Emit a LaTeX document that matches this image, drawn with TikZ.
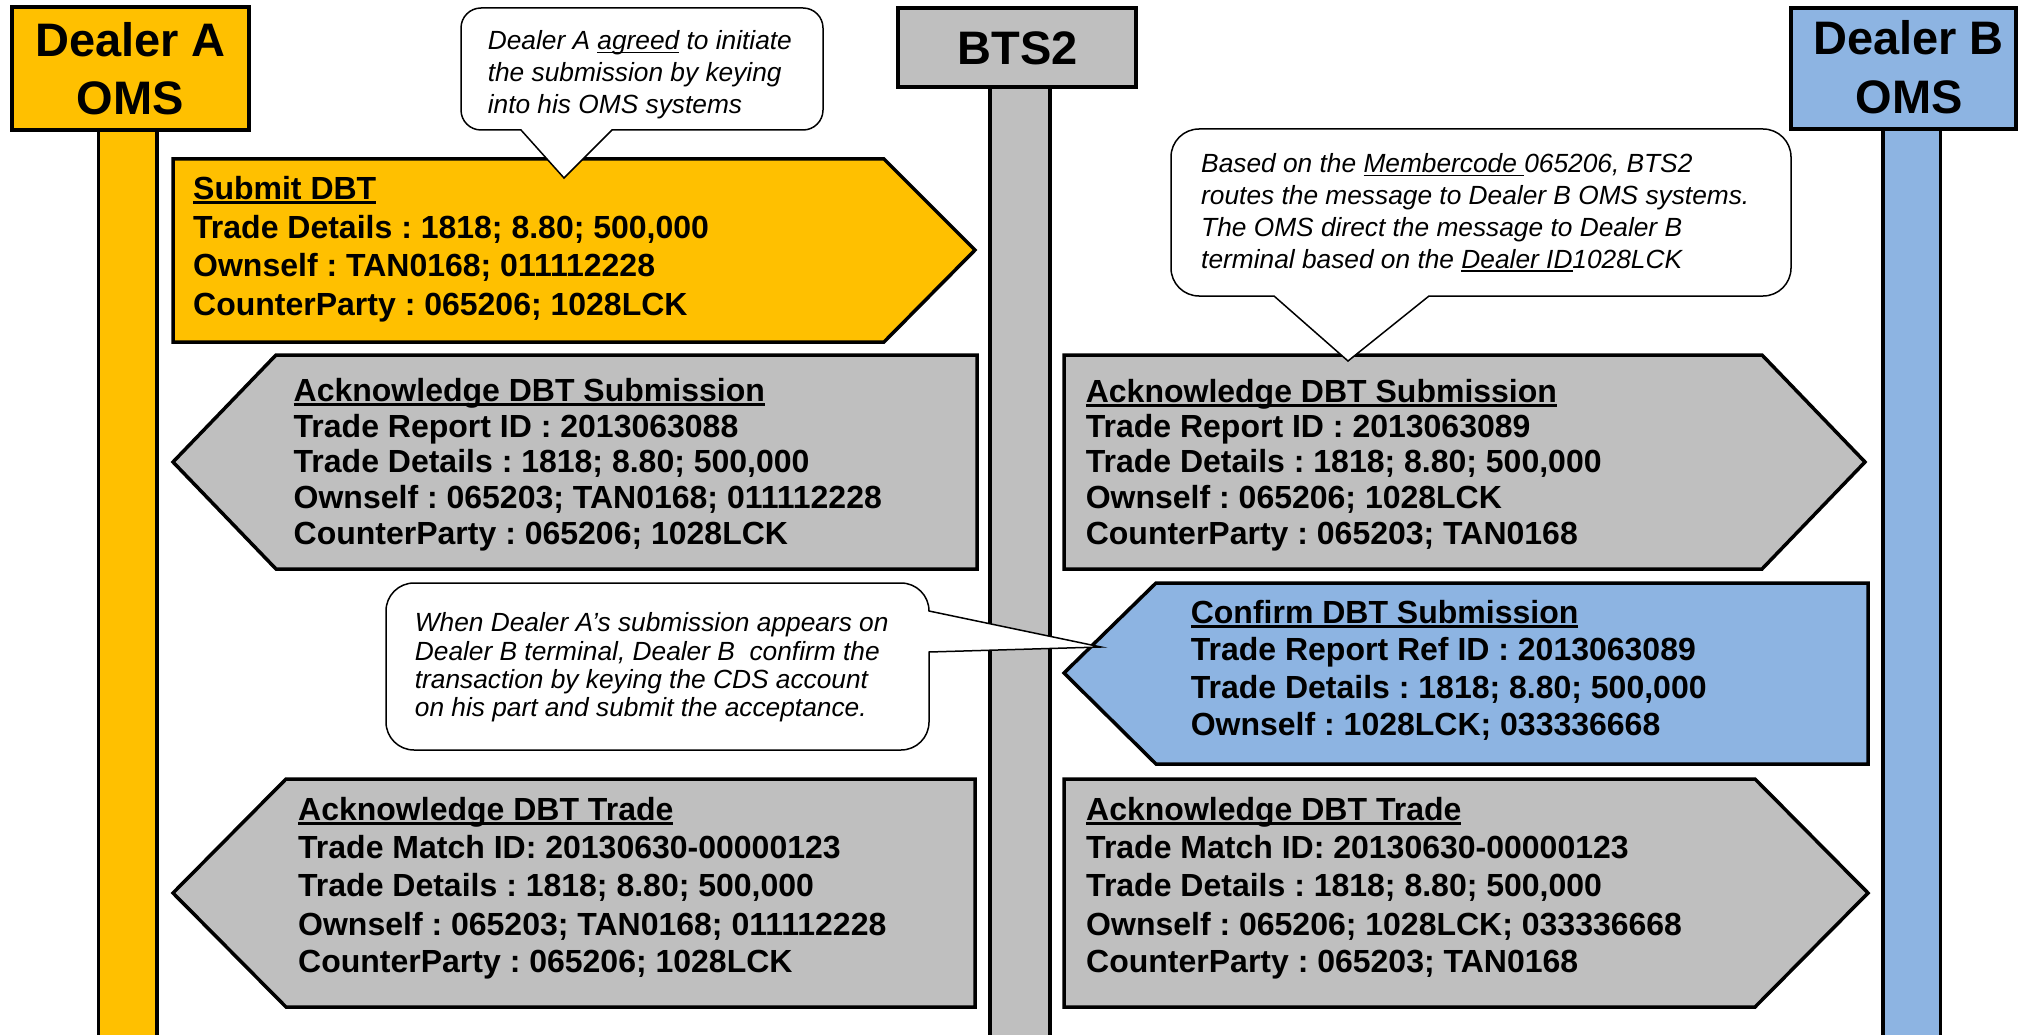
\documentclass[tikz,border=0pt]{standalone}
\usepackage{fontspec}
\setmainfont{Liberation Sans}
\definecolor{dorange}{HTML}{FFC000}
\definecolor{dgray}{HTML}{BFBFBF}
\definecolor{dblue}{HTML}{8DB4E2}
\newcommand\ulbox[3]{{\setbox0=\hbox{#3}\leavevmode\rlap{\vrule width \wd0 height \dimexpr #1-#2\relax depth #2}\box0}}
\newcommand\thickul[1]{\ulbox{3pt}{4.5pt}{#1}}
\newcommand\thinul[1]{\ulbox{1.5pt}{3.5pt}{#1}}
\frenchspacing
\begin{document}
\frenchspacing
\begin{tikzpicture}[x=1pt,y=-1pt,
  shapeline/.style={line width=3.5pt, draw=black, line join=miter},
  call/.style={line width=1.5pt, draw=black, fill=white},
  msg/.style={inner sep=0pt, anchor=base west, font=\fontsize{32}{38}\selectfont\bfseries\frenchspacing},
  note/.style={inner sep=0pt, anchor=base west, font=\fontsize{26.3}{31}\selectfont\itshape\frenchspacing},
  head/.style={inner sep=0pt, anchor=base, font=\fontsize{47}{56}\selectfont\bfseries}]
\useasboundingbox (0,0) rectangle (2020,1035);
\fill[white] (0,0) rectangle (2020,1035);
\clip (0,0) rectangle (2020,1035);

% lifelines
\draw[shapeline, fill=dorange] (98.5,128) rectangle (157,1045);
\draw[shapeline, fill=dgray] (990,85) rectangle (1050,1045);
\draw[shapeline, fill=dblue] (1883,127) rectangle (1940.5,1045);

% header boxes
\draw[shapeline, fill=dorange] (12,7) rectangle (249,130);
\draw[shapeline, fill=dgray] (898,8) rectangle (1136,87);
\draw[shapeline, fill=dblue] (1791,8) rectangle (2016,129);
\node[head] (ha1) at (130.5,56.7) {Dealer A};
\node[head] (ha2) at (130.5,114.3) {OMS};
\node[head] (hb) at (1017.5,65) {BTS2};
\node[head] (hc1) at (1908.5,55) {Dealer B};
\node[head] (hc2) at (1909.5,113.3) {OMS};

% message shapes
\draw[shapeline, fill=dorange] (173,159) -- (884,159) -- (975,250) -- (884,342) -- (173,342) -- cycle;
\draw[shapeline, fill=dgray] (276,355) -- (977,355) -- (977,569) -- (276,569) -- (173,462) -- cycle;
\draw[shapeline, fill=dgray] (1064,355) -- (1762,355) -- (1865,462) -- (1762,569) -- (1064,569) -- cycle;
\draw[shapeline, fill=dblue] (1156,583) -- (1868,583) -- (1868,764) -- (1156,764) -- (1064,673) -- cycle;
\draw[shapeline, fill=dgray] (286,779) -- (975,779) -- (975,1007) -- (286,1007) -- (173,893) -- cycle;
\draw[shapeline, fill=dgray] (1064,779) -- (1755,779) -- (1868,893) -- (1755,1007) -- (1064,1007) -- cycle;

% callouts
\draw[call] (481,8) -- (803,8) arc[start angle=-90,end angle=0,radius=20] -- (823,110)
  arc[start angle=0,end angle=90,radius=20] -- (612,130) -- (564,178) -- (521,130) -- (481,130)
  arc[start angle=90,end angle=180,radius=20] -- (461,28) arc[start angle=180,end angle=270,radius=20] -- cycle;
\draw[call] (1199,129) -- (1763,129) arc[start angle=-90,end angle=0,radius=28] -- (1791,268)
  arc[start angle=0,end angle=90,radius=28] -- (1429,296) -- (1348,361) -- (1274,296) -- (1199,296)
  arc[start angle=90,end angle=180,radius=28] -- (1171,157) arc[start angle=180,end angle=270,radius=28] -- cycle;
\draw[call] (414,583) -- (901,583) arc[start angle=-90,end angle=0,radius=28] -- (1101,647) -- (929,652) -- (929,722)
  arc[start angle=0,end angle=90,radius=28] -- (414,750)
  arc[start angle=90,end angle=180,radius=28] -- (386,611) arc[start angle=180,end angle=270,radius=28] -- cycle;

% callout texts
\node[note] (n11) at (487.6,50) {Dealer A \thinul{agreed} to initiate};
\node[note] (n12) at (487.6,81.7) {the submission by keying};
\node[note] (n13) at (487.6,113.3) {into his OMS systems};

\node[note] (n21) at (1201,172.7) {Based on the \thinul{Membercode\ }065206, BTS2};
\node[note] (n22) at (1201,204.5) {routes the message to Dealer B OMS systems.};
\node[note] (n23) at (1201,236.3) {The OMS direct the message to Dealer B};
\node[note] (n24) at (1201,268.1) {terminal based on the \thinul{Dealer ID}1028LCK};

\node[note] (n31) at (414.7,631.7) {When Dealer A’s submission appears on};
\node[note] (n32) at (414.7,660) {Dealer B terminal, Dealer B~ confirm the};
\node[note] (n33) at (414.7,688.3) {transaction by keying the CDS account};
\node[note] (n34) at (414.7,716.6) {on his part and submit the acceptance.};

% message texts
\node[msg] (m10) at (193,200) {\thickul{Submit DBT}};
\node[msg] (m11) at (193,238.3) {Trade Details : 1818; 8.80; 500,000};
\node[msg] (m12) at (193,276.6) {Ownself : TAN0168; 011112228};
\node[msg] (m13) at (193,315) {CounterParty : 065206; 1028LCK};

\node[msg] (m20) at (293.5,401.7) {\thickul{Acknowledge DBT Submission}};
\node[msg] (m21) at (293.5,437) {Trade Report ID : 2013063088};
\node[msg] (m22) at (293.5,472.5) {Trade Details : 1818; 8.80; 500,000};
\node[msg] (m23) at (293.5,508.5) {Ownself : 065203; TAN0168; 011112228};
\node[msg] (m24) at (293.5,544) {CounterParty : 065206; 1028LCK};

\node[msg] (m30) at (1085.6,402) {\thickul{Acknowledge DBT Submission}};
\node[msg] (m31) at (1085.6,437) {Trade Report ID : 2013063089};
\node[msg] (m32) at (1085.6,472.7) {Trade Details : 1818; 8.80; 500,000};
\node[msg] (m33) at (1085.6,508.3) {Ownself : 065206; 1028LCK};
\node[msg] (m34) at (1085.6,544) {CounterParty : 065203; TAN0168};

\node[msg] (m40) at (1190.6,623.3) {\thickul{Confirm DBT Submission}};
\node[msg] (m41) at (1190.6,660.7) {Trade Report Ref ID : 2013063089};
\node[msg] (m42) at (1190.6,698.3) {Trade Details : 1818; 8.80; 500,000};
\node[msg] (m43) at (1190.6,735.7) {Ownself : 1028LCK; 033336668};

\node[msg] (m50) at (298,820) {\thickul{Acknowledge DBT Trade}};
\node[msg] (m51) at (298,858.3) {Trade Match ID: 20130630-00000123};
\node[msg] (m52) at (298,896.7) {Trade Details : 1818; 8.80; 500,000};
\node[msg] (m53) at (298,935) {Ownself : 065203; TAN0168; 011112228};
\node[msg] (m54) at (298,972) {CounterParty : 065206; 1028LCK};

\node[msg] (m60) at (1086,820) {\thickul{Acknowledge DBT Trade}};
\node[msg] (m61) at (1086,858.3) {Trade Match ID: 20130630-00000123};
\node[msg] (m62) at (1086,896.7) {Trade Details : 1818; 8.80; 500,000};
\node[msg] (m63) at (1086,935) {Ownself : 065206; 1028LCK; 033336668};
\node[msg] (m64) at (1086,972) {CounterParty : 065203; TAN0168};
\end{tikzpicture}
\end{document}
